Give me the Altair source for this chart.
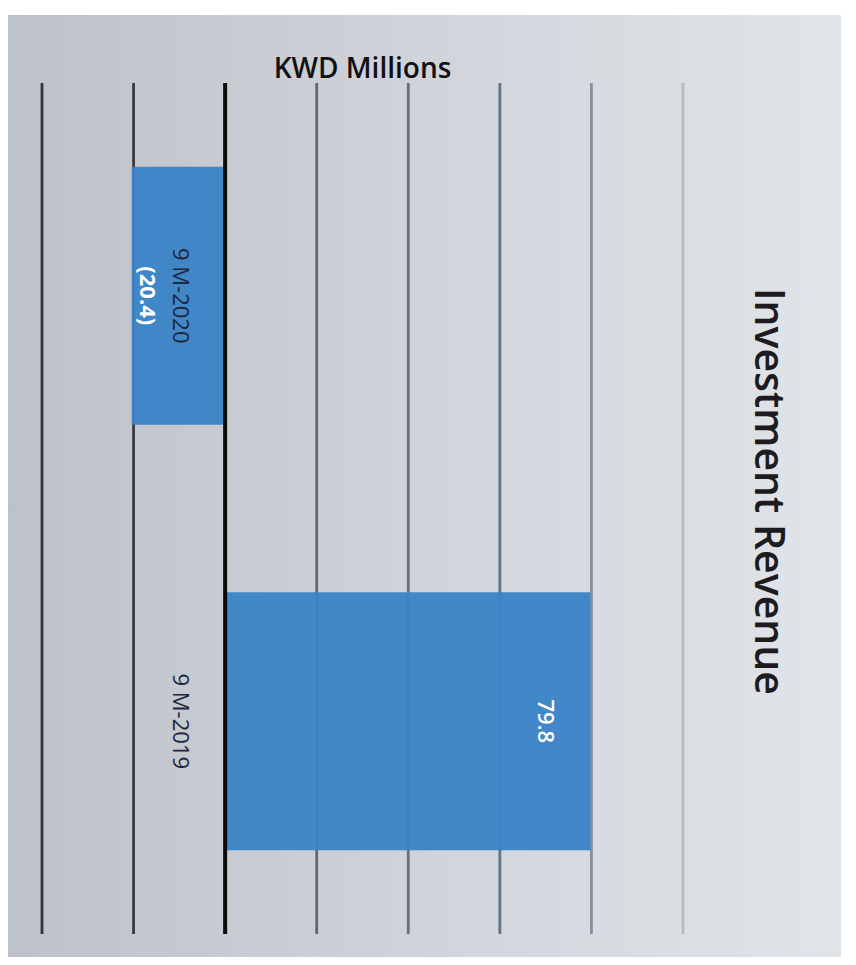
import altair as alt
import pandas as pd

categories = ["9 M-2020", "9 M-2019"]
values = [-20.4, 79.8]
value_labels = ["(20.4)", "79.8"]
ticks = [-40, -20, 0, 20, 40, 60, 80, 100]

df = pd.DataFrame({"category": categories, "value": values, "label": value_labels})
df["base"] = 0
grid_df = pd.DataFrame({"tick": ticks})

FONT = "Open Sans"
xscale = alt.Scale(domain=[-40, 100], nice=False, zero=False)
x_enc = alt.X("value:Q", scale=xscale, axis=None)
y_enc = alt.Y(
    "category:N",
    sort=categories,
    scale=alt.Scale(paddingInner=0.394, paddingOuter=0.197),
    axis=alt.Axis(
        orient="right", labels=False, ticks=False, domain=False, grid=False,
        title="Investment Revenue", titleAngle=90, titleX=83, titleY=408,
        titleAlign="center", titleBaseline="middle", titleFontSize=41,
        titleFont=FONT, titleFontWeight=600, titleColor="#1b1b20", zindex=1,
    ),
)

bg = alt.Chart(grid_df).transform_filter(alt.datum.tick == 0).mark_rect(
    fill=alt.Gradient(
        gradient="linear", x1=0, x2=1, y1=0, y2=0,
        stops=[alt.GradientStop(color="#bdc1c9", offset=0),
               alt.GradientStop(color="#d2d5db", offset=0.55),
               alt.GradientStop(color="#e1e4e9", offset=1)],
    )
).encode(x=alt.value(-34), x2=alt.value(799), y=alt.value(-68), y2=alt.value(874))

grid = alt.Chart(grid_df).transform_filter(alt.datum.tick != 0).mark_rule(strokeWidth=2.8).encode(
    x=alt.X("tick:Q", scale=xscale, axis=None),
    color=alt.Color(
        "tick:O",
        scale=alt.Scale(
            domain=[-40, -20, 20, 40, 60, 80, 100],
            range=["#3a3238", "#3f383e", "#62666d", "#6a7078", "#5f7488", "#8a9098", "#b6bac1"],
        ),
        legend=None,
    ),
)

bars = alt.Chart(df).mark_bar(color="#3a84c6", opacity=0.95).encode(
    x=x_enc, x2="base:Q", y=y_enc
)

zero = alt.Chart(grid_df).transform_filter(alt.datum.tick == 0).mark_rule(
    color="#0a0a0a", strokeWidth=4
).encode(x=alt.X("tick:Q", scale=xscale, axis=None))

# with angle=90, dy moves text horizontally on screen (positive = left)
cat_text = alt.Chart(df).mark_text(
    angle=90, align="center", baseline="middle", dy=45,
    fontSize=22, font=FONT, color="#1e2640",
).encode(x=alt.X("base:Q", scale=xscale, axis=None), y=y_enc, text="category:N")

neg_text = alt.Chart(df).transform_filter(alt.datum.value < 0).mark_text(
    angle=90, align="center", baseline="middle", dy=-15,
    fontSize=22, font=FONT, fontWeight=700, color="white",
).encode(x=x_enc, y=y_enc, text="label:N")

pos_text = alt.Chart(df).transform_filter(alt.datum.value >= 0).mark_text(
    angle=90, align="center", baseline="middle", dy=46,
    fontSize=22, font=FONT, fontWeight=600, color="white",
).encode(x=x_enc, y=y_enc, text="label:N")

chart = alt.layer(bg, grid, bars, zero, cat_text, neg_text, pos_text).properties(
    width=641,
    height=851,
    padding={"left": 34, "top": 75, "right": 165, "bottom": 23},
    autosize=alt.AutoSizeParams(type="none"),
    background="white",
    title=alt.TitleParams(
        "KWD Millions", anchor="middle", fontSize=28, font=FONT,
        fontWeight=600, color="#111111", offset=-91, baseline="alphabetic",
    ),
).configure_view(stroke=None)

chart.save("out.html", embed_options={"renderer": "svg", "actions": False})
